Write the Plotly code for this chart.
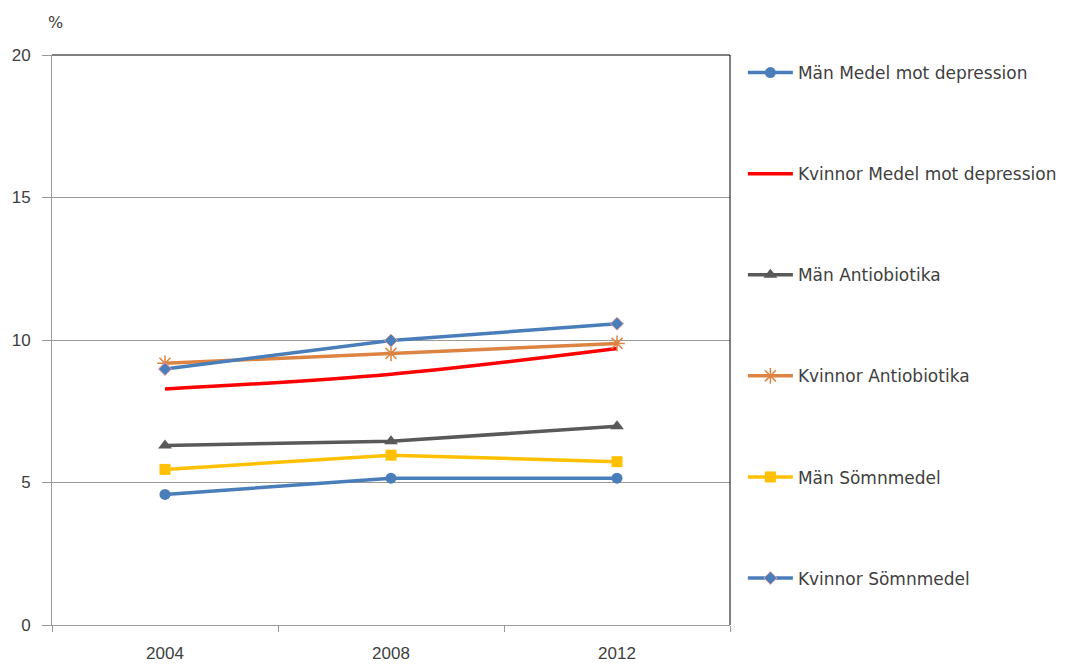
import plotly.graph_objects as go

years = ["2004", "2008", "2012"]
series_names = [
    "Män Medel mot depression",
    "Kvinnor Medel mot depression",
    "Män Antiobiotika",
    "Kvinnor Antiobiotika",
    "Män Sömnmedel",
    "Kvinnor Sömnmedel",
]
man_depression = [4.58, 5.15, 5.15]
kvinnor_depression = [8.28, 8.8, 9.7]
man_antibiotika = [6.3, 6.45, 6.97]
kvinnor_antibiotika = [9.18, 9.53, 9.88]
man_somnmedel = [5.46, 5.96, 5.73]
kvinnor_somnmedel = [8.98, 9.98, 10.57]
y_ticks = [0, 5, 10, 15, 20]

values = [man_depression, kvinnor_depression, man_antibiotika,
          kvinnor_antibiotika, man_somnmedel, kvinnor_somnmedel]

styles = [
    dict(line=dict(color="#4A7EBB", width=3.5), mode="lines+markers",
         marker=dict(symbol="circle", size=11, color="#4A7EBB")),
    dict(line=dict(color="#FF0000", width=3.5, shape="spline"), mode="lines"),
    dict(line=dict(color="#595959", width=3.5), mode="lines+markers",
         marker=dict(symbol="triangle-up", size=12, color="#595959")),
    dict(line=dict(color="#DD8443", width=3.5), mode="lines+markers",
         marker=dict(symbol="asterisk-open", size=13,
                     line=dict(color="#F0A060", width=1.5))),
    dict(line=dict(color="#FFC000", width=3.5), mode="lines+markers",
         marker=dict(symbol="square", size=11, color="#FFC000")),
    dict(line=dict(color="#4A7EBB", width=3.5), mode="lines+markers",
         marker=dict(symbol="diamond", size=10, color="#4A7EBB",
                     line=dict(color="#E8A0A0", width=1))),
]

fig = go.Figure()
for i, (name, vals, st) in enumerate(zip(series_names, values, styles)):
    fig.add_trace(go.Scatter(x=years, y=vals, name=name, legendgroup=f"g{i}", **st))

fig.update_layout(
    width=1080, height=664,
    margin=dict(l=44, r=358, t=47, b=47),
    paper_bgcolor="white", plot_bgcolor="white",
    font=dict(family="Liberation Sans, Arial, sans-serif", color="#404040", size=17),
    showlegend=True,
    legend=dict(x=1.019, y=1.0, xanchor="left", yanchor="top",
                tracegroupgap=76, itemwidth=45,
                font=dict(family="DejaVu Sans, sans-serif", size=17, color="#404040"),
                bgcolor="rgba(0,0,0,0)"),
    xaxis=dict(type="category", showgrid=False, showline=True, linecolor="#999999",
               linewidth=1, ticks="outside", tickson="boundaries", ticklen=6,
               tickcolor="#999999", tickfont=dict(size=17, color="#404040"),
               range=[-0.5, 2.5], zeroline=False, ticklabelstandoff=13,
               automargin=False),
    yaxis=dict(range=[0, 20], tickvals=y_ticks, showgrid=True, gridcolor="#999999",
               gridwidth=1, showline=True, linecolor="#999999", linewidth=1,
               ticks="outside", ticklen=9, tickcolor="#999999", zeroline=False,
               tickfont=dict(size=17, color="#404040"), ticklabelstandoff=8,
               automargin=False),
    annotations=[dict(text="%", x=0.005, y=1.036, xref="paper", yref="paper",
                      xanchor="center", yanchor="bottom", showarrow=False,
                      font=dict(family="DejaVu Sans, sans-serif", size=16, color="#404040"))],
    shapes=[
        dict(type="line", xref="paper", yref="paper", x0=0, x1=1, y0=1, y1=1,
             line=dict(color="black", width=1)),
        dict(type="line", xref="paper", yref="paper", x0=1, x1=1, y0=0, y1=1,
             line=dict(color="black", width=1)),
    ],
)

fig.write_html("out.html")
